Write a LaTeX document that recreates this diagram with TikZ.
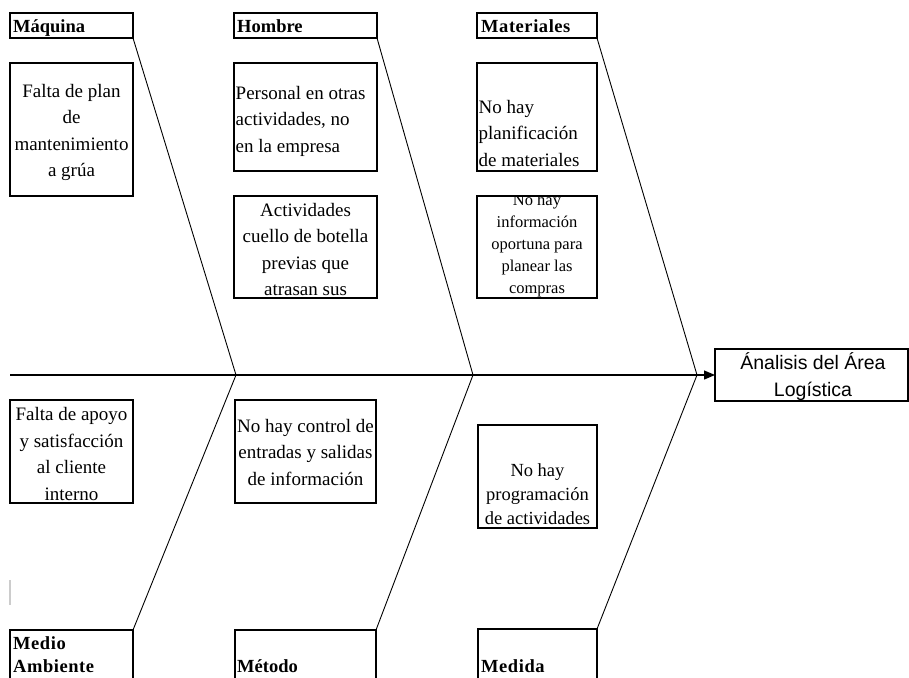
\documentclass[tikz,border=0pt]{standalone}
\usepackage{fontspec}
\setmainfont{Liberation Serif}
\newfontfamily\arialfont{Liberation Sans}
\usetikzlibrary{arrows.meta}
\begin{document}
\begin{tikzpicture}[x=1pt,y=-1pt,
  box/.style={draw, line width=1.9pt, inner sep=0pt, outer sep=0pt, anchor=north west},
  bone/.style={line width=0.9pt},
  txt/.style={inner sep=0pt, font=\fontsize{19}{26.5}\selectfont},
  smalltxt/.style={inner sep=0pt, font=\fontsize{16.5}{22}\selectfont},
  lbl/.style={inner sep=0pt, anchor=base west, font=\fontsize{18.5}{22}\selectfont\bfseries},
  spaced/.style={font=\fontsize{18.5}{22}\selectfont\bfseries\addfontfeatures{LetterSpace=3}},
]
\clip (0,0) rectangle (909,677);
% category label boxes (top)
\node[box, minimum width=123pt, minimum height=25pt] (maq) at (10,13) {};
\node[box, minimum width=143pt, minimum height=25pt] (hom) at (234,13) {};
\node[box, minimum width=120pt, minimum height=25pt] (mat) at (477,13) {};
\node[lbl] (maqt) at (13,33) {Máquina};
\node[lbl] (homt) at (237,33) {Hombre};
\node[lbl, spaced] (matt) at (481,33) {Materiales};
% category label boxes (bottom)
\node[box, minimum width=123pt, minimum height=60pt] (med) at (10,630) {};
\node[box, minimum width=141pt, minimum height=60pt] (met) at (235,630) {};
\node[box, minimum width=119pt, minimum height=60pt] (mda) at (478,629) {};
\node[lbl, spaced] (medt1) at (13,649) {Medio};
\node[lbl, spaced] (medt2) at (13,672) {Ambiente};
\node[lbl] (mett) at (237,672) {Método};
\node[lbl, spaced] (mdat) at (481,672) {Medida};
% cause boxes
\node[box, minimum width=123pt, minimum height=133pt] (c1) at (10,63) {};
\node[box, minimum width=143pt, minimum height=108pt] (c2) at (234,63) {};
\node[box, minimum width=143pt, minimum height=102pt] (c3) at (234,196) {};
\node[box, minimum width=120pt, minimum height=108pt] (c4) at (477,63) {};
\begin{scope}
\clip (477,196) rectangle (597,298);
\node[smalltxt, align=center] (c5t) at (537,246) {No hay\\información\\oportuna para\\planear las\\compras};
\end{scope}
\node[box, minimum width=120pt, minimum height=102pt] (c5) at (477,196) {};
\node[box, minimum width=123pt, minimum height=103pt] (c6) at (10,400) {};
\node[box, minimum width=141pt, minimum height=103pt] (c7) at (235,400) {};
\node[box, minimum width=119pt, minimum height=103pt] (c8) at (478,425) {};
\node[txt, align=center] (c1t) at (71.5,132.5) {Falta de plan\\de\\mantenimiento\\a grúa};
\node[txt, align=left, anchor=west] (c2t) at (235.5,121) {Personal en otras\\actividades, no\\en la empresa};
\node[txt, align=center] (c3t) at (305.5,249.5) {Actividades\\cuello de botella\\previas que\\atrasan sus};
\node[txt, align=left, anchor=west] (c4t) at (478.5,133) {No hay\\planificación\\de materiales};
\node[txt, align=center] (c6t) at (71.5,454) {Falta de apoyo\\y satisfacción\\al cliente\\interno};
\node[txt, align=center] (c7t) at (305.5,452) {No hay control de\\entradas y salidas\\de información};
\node[inner sep=0pt, font=\fontsize{18.5}{24}\selectfont, align=center] (c8t) at (537.5,494) {No hay\\programación\\de actividades};
% effect box
\node[box, minimum width=193pt, minimum height=52pt] (eff) at (715,349) {};
\node[inner sep=0pt, font=\arialfont\fontsize{19.5}{27}\selectfont, align=center] (efft) at (813,376.5) {Ánalisis del Área\\Logística};
% spine and bones
\coordinate (s0) at (10,375);
\coordinate (j1) at (236,375);
\coordinate (j2) at (473,375);
\coordinate (j3) at (697,375);
\draw[line width=1.2pt, -{Triangle[length=11pt,width=9pt]}] (s0) -- (eff.west);
\draw[bone] (maq.south east) -- (j1);
\draw[bone] (hom.south east) -- (j2);
\draw[bone] (mat.south east) -- (j3);
\draw[bone] (med.north east) -- (j1);
\draw[bone] (met.north east) -- (j2);
\draw[bone] (mda.north east) -- (j3);
% faint mark
\coordinate (g0) at (10,580);
\coordinate (g1) at (10,605);
\draw[black!20, line width=1.5pt] (g0) -- (g1);
\end{tikzpicture}
\end{document}
